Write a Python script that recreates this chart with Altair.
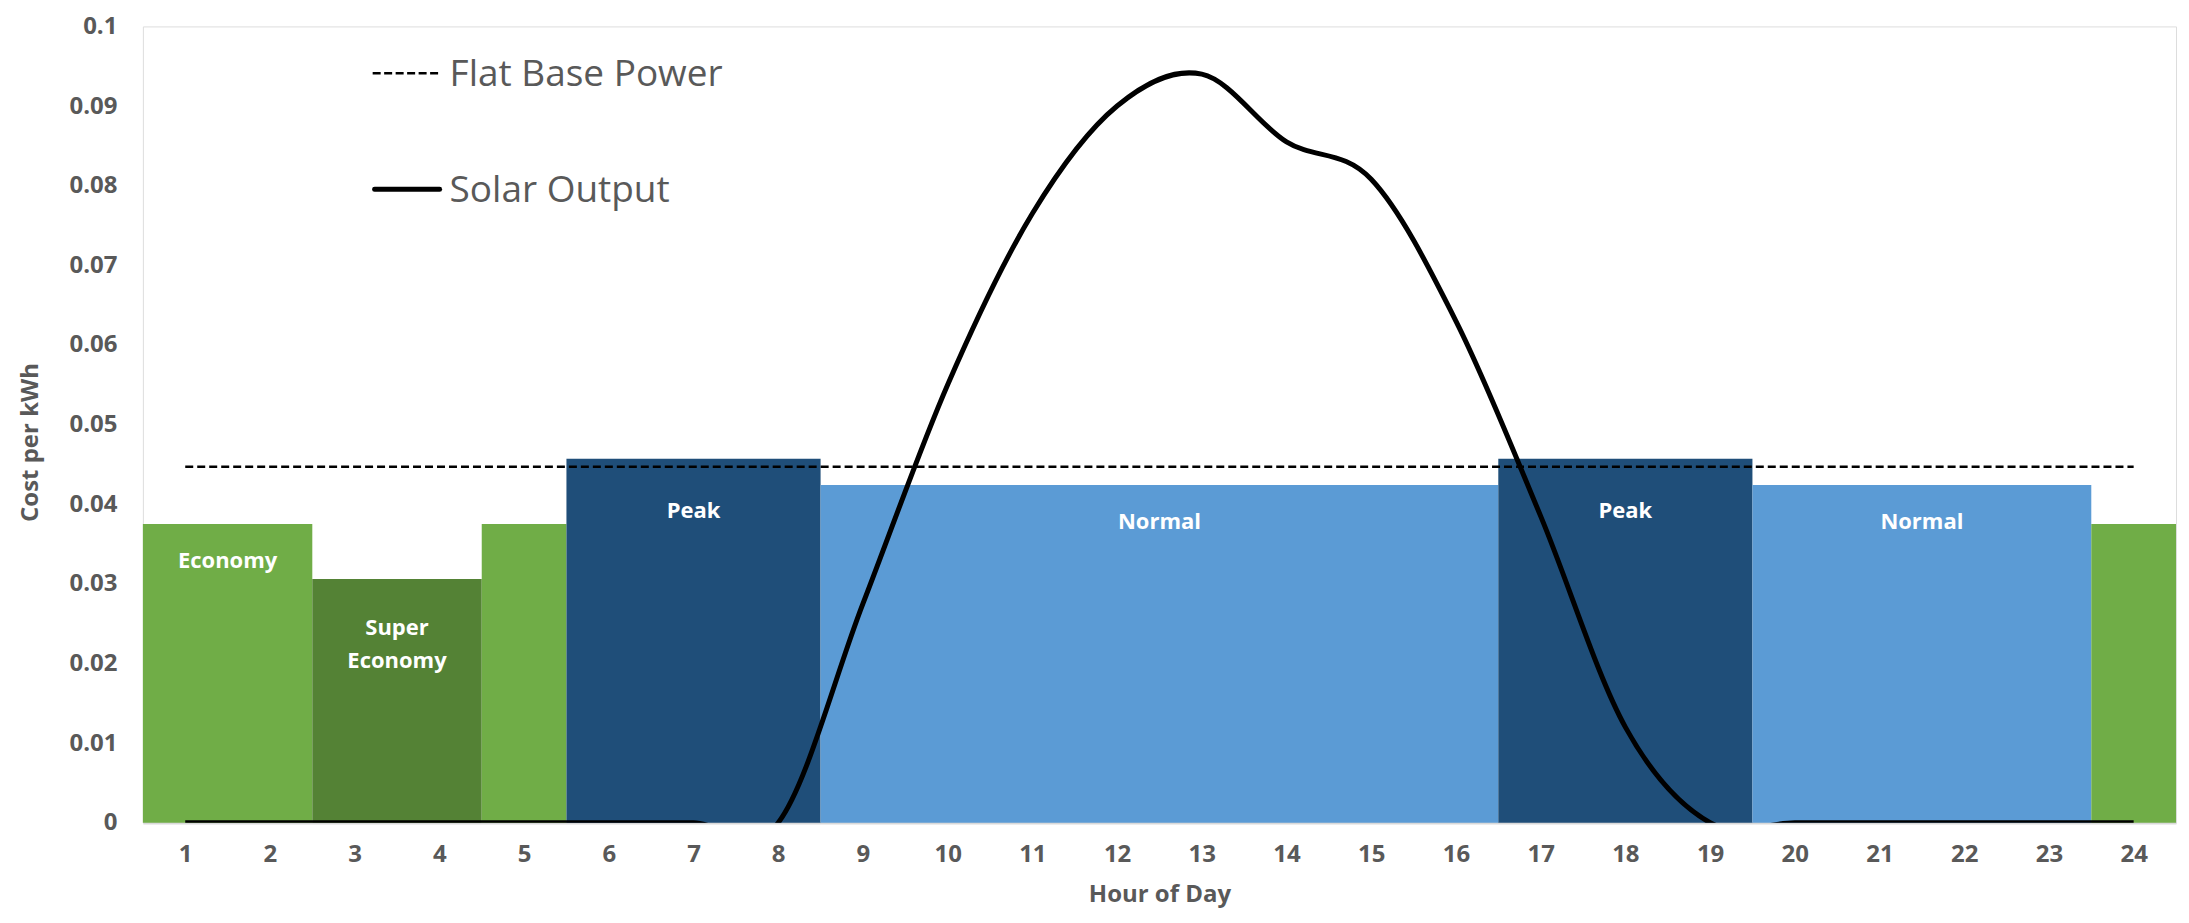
import altair as alt
import pandas as pd

# ---------------- data ----------------
hours = list(range(1, 25))
solar_output = [0, 0, 0, 0, 0, 0, 0, 0, 0.0275, 0.055, 0.0765, 0.09,
                0.094, 0.0855, 0.0808, 0.063, 0.0385, 0.012, 0, 0, 0, 0, 0, 0]
flat_base_rate = 0.0447

tier_names = ["Economy", "Super Economy", "Peak", "Normal"]
tier_rates = [0.0375, 0.0306, 0.0457, 0.0424]
tier_colors = ["#70AD47", "#548235", "#1F4E79", "#5B9BD5"]

segment_tiers = ["Economy", "Super Economy", "Economy", "Peak", "Normal", "Peak", "Normal", "Economy"]
segment_start = [1, 3, 5, 6, 9, 17, 20, 24]
segment_end = [2, 4, 5, 8, 16, 19, 23, 24]
segment_labels = ["Economy", "Super\nEconomy", "", "Peak", "Normal", "Peak", "Normal", ""]

y_ticks = [0, 0.01, 0.02, 0.03, 0.04, 0.05, 0.06, 0.07, 0.08, 0.09, 0.1]

legend_names = ["Flat Base Power", "Solar Output"]

# ---------------- tables ----------------
rate_of = dict(zip(tier_names, tier_rates))
seg_df = pd.DataFrame({
    "tier": segment_tiers,
    "start": segment_start,
    "end": segment_end,
    "label": segment_labels,
})
seg_df["rate"] = seg_df["tier"].map(rate_of)

line_df = pd.DataFrame({"hour": hours, "solar": solar_output,
                        "flat": [flat_base_rate] * len(hours)})

GRAY = "#595959"
FONT = "Open Sans"

xscale = alt.Scale(domain=[0.5, 24.5], nice=False, zero=False)
yscale = alt.Scale(domain=[0, 0.1], nice=False)

x_axis = alt.Axis(values=hours, format="d", title="Hour of Day", labelFontSize=24, labelFont=FONT,
                  labelFontWeight="bold", labelColor=GRAY, ticks=False, grid=False,
                  domainColor="#D9D9D9", domainWidth=2.5, labelPadding=20,
                  titleFontSize=24, titleFont=FONT, titleFontWeight="bold",
                  titleColor=GRAY, titlePadding=16, labelFlush=False)
y_axis = alt.Axis(values=y_ticks, format=".2~f", title="Cost per kWh", labelFontSize=24,
                  labelFont=FONT, labelFontWeight="bold", labelColor=GRAY, ticks=False,
                  grid=False, domain=False, labelPadding=26, titleFontSize=24,
                  titleFont=FONT, titleFontWeight="bold", titleColor=GRAY,
                  titlePadding=26, titleY=416, labelFlush=False)

base_seg = alt.Chart(seg_df).transform_calculate(
    x0="datum.start - 0.5", x1="datum.end + 0.5", mid="(datum.start + datum.end) / 2"
)

bars = base_seg.mark_rect().encode(
    x=alt.X("x0:Q", scale=xscale, axis=x_axis),
    x2="x1:Q",
    y=alt.Y("rate:Q", scale=yscale, axis=y_axis),
    y2=alt.datum(0),
    color=alt.Color("tier:N", scale=alt.Scale(domain=tier_names, range=tier_colors), legend=None),
)

def label_layer(tiers, dy):
    return base_seg.transform_filter(
        alt.FieldOneOfPredicate(field="tier", oneOf=tiers)
    ).transform_filter("datum.label != ''").mark_text(
        color="white", font=FONT, fontWeight="bold", fontSize=22, baseline="middle",
        align="center", dy=dy, lineBreak="\n", lineHeight=33
    ).encode(x=alt.X("mid:Q", scale=xscale), y=alt.Y("rate:Q", scale=yscale), text="label:N")

lab_main = label_layer(["Economy", "Normal"], 37)
lab_peak = label_layer(["Peak"], 52)
lab_super = label_layer(["Super Economy"], 49)

flat_line = alt.Chart(line_df).mark_line(
    color="black", strokeDash=[8, 4], strokeWidth=2.5
).encode(x=alt.X("hour:Q", scale=xscale), y=alt.Y("flat:Q", scale=yscale))

solar_line = alt.Chart(line_df).mark_line(
    color="black", strokeWidth=5, interpolate="cardinal", clip=True
).encode(x=alt.X("hour:Q", scale=xscale), y=alt.Y("solar:Q", scale=yscale))

one = alt.InlineData(values=[{"k": 1}])
leg_flat_sym = alt.Chart(one).mark_rule(color="black", strokeDash=[8, 3.5], strokeWidth=2.5).encode(
    x=alt.value(230), x2=alt.value(299), y=alt.value(47))
leg_solar_sym = alt.Chart(one).mark_rule(color="black", strokeWidth=5, strokeCap="round").encode(
    x=alt.value(232), x2=alt.value(297), y=alt.value(163))
leg_flat_txt = alt.Chart(one).mark_text(
    align="left", baseline="alphabetic", fontSize=37, font=FONT, color=GRAY
).encode(x=alt.value(307), y=alt.value(60), text=alt.value(legend_names[0]))
leg_solar_txt = alt.Chart(one).mark_text(
    align="left", baseline="alphabetic", fontSize=37, font=FONT, color=GRAY
).encode(x=alt.value(307), y=alt.value(176), text=alt.value(legend_names[1]))

chart = alt.layer(
    bars, lab_main, lab_peak, lab_super, flat_line, solar_line,
    leg_flat_sym, leg_solar_sym, leg_flat_txt, leg_solar_txt
).properties(
    width=2035, height=797,
    padding={"left": 10, "top": 6, "right": 5, "bottom": 5},
).configure_view(stroke=None).configure(font=FONT)

chart.save("out.html", embed_options={"renderer": "svg", "actions": False})
